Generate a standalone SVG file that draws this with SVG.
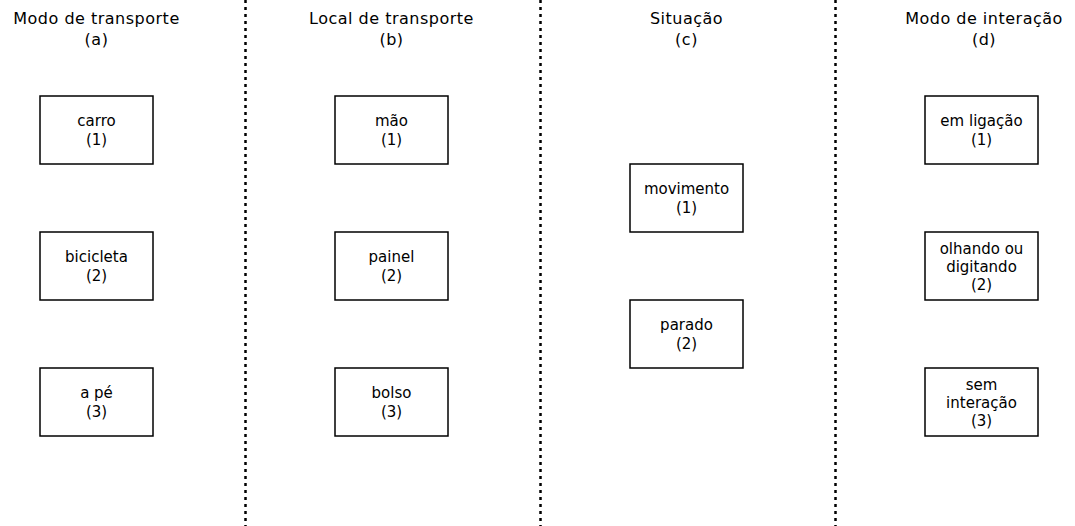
<svg xmlns="http://www.w3.org/2000/svg" width="1075" height="526" viewBox="0 0 1075 526">
<style>
.t{font-family:"DejaVu Sans",Verdana,sans-serif;font-size:16px;letter-spacing:0.5px;fill:#000;text-anchor:middle}
.b{font-family:"DejaVu Sans",Verdana,sans-serif;font-size:15px;fill:#000;text-anchor:middle}
.box{fill:#fff;stroke:#000;stroke-width:1.5}
.sep{stroke:#000;stroke-width:2.5;stroke-dasharray:3 4;fill:none}
</style>
<rect width="1075" height="526" fill="#fff"/>
<g id="separators">
<line class="sep" x1="245.5" y1="0" x2="245.5" y2="526"/>
<line class="sep" x1="540.5" y1="0" x2="540.5" y2="526"/>
<line class="sep" x1="835.5" y1="0" x2="835.5" y2="526"/>
</g>
<g id="title-a"><text class="t" x="96.5" y="24">Modo de transporte</text><text class="t" x="96.5" y="45">(a)</text></g>
<g id="title-b"><text class="t" x="391.5" y="24">Local de transporte</text><text class="t" x="391.5" y="45">(b)</text></g>
<g id="title-c"><text class="t" x="686.5" y="24">Situação</text><text class="t" x="686.5" y="45">(c)</text></g>
<g id="title-d"><text class="t" x="984" y="24">Modo de interação</text><text class="t" x="984" y="45">(d)</text></g>

<g id="a1"><rect class="box" x="40" y="96" width="113" height="68"/><text class="b" x="96.5" y="126">carro</text><text class="b" x="96.5" y="145">(1)</text></g>
<g id="a2"><rect class="box" x="40" y="232" width="113" height="68"/><text class="b" x="96.5" y="262">bicicleta</text><text class="b" x="96.5" y="281">(2)</text></g>
<g id="a3"><rect class="box" x="40" y="368" width="113" height="68"/><text class="b" x="96.5" y="398">a pé</text><text class="b" x="96.5" y="417">(3)</text></g>

<g id="b1"><rect class="box" x="335" y="96" width="113" height="68"/><text class="b" x="391.5" y="126">mão</text><text class="b" x="391.5" y="145">(1)</text></g>
<g id="b2"><rect class="box" x="335" y="232" width="113" height="68"/><text class="b" x="391.5" y="262">painel</text><text class="b" x="391.5" y="281">(2)</text></g>
<g id="b3"><rect class="box" x="335" y="368" width="113" height="68"/><text class="b" x="391.5" y="398">bolso</text><text class="b" x="391.5" y="417">(3)</text></g>

<g id="c1"><rect class="box" x="630" y="164" width="113" height="68"/><text class="b" x="686.5" y="194">movimento</text><text class="b" x="686.5" y="213">(1)</text></g>
<g id="c2"><rect class="box" x="630" y="300" width="113" height="68"/><text class="b" x="686.5" y="330">parado</text><text class="b" x="686.5" y="349">(2)</text></g>

<g id="d1"><rect class="box" x="925" y="96" width="113" height="68"/><text class="b" x="981.5" y="126">em ligação</text><text class="b" x="981.5" y="145">(1)</text></g>
<g id="d2"><rect class="box" x="925" y="232" width="113" height="68"/><text class="b" x="981.5" y="254">olhando ou</text><text class="b" x="981.5" y="272">digitando</text><text class="b" x="981.5" y="290">(2)</text></g>
<g id="d3"><rect class="box" x="925" y="368" width="113" height="68"/><text class="b" x="981.5" y="390">sem</text><text class="b" x="981.5" y="408">interação</text><text class="b" x="981.5" y="426">(3)</text></g>
</svg>
